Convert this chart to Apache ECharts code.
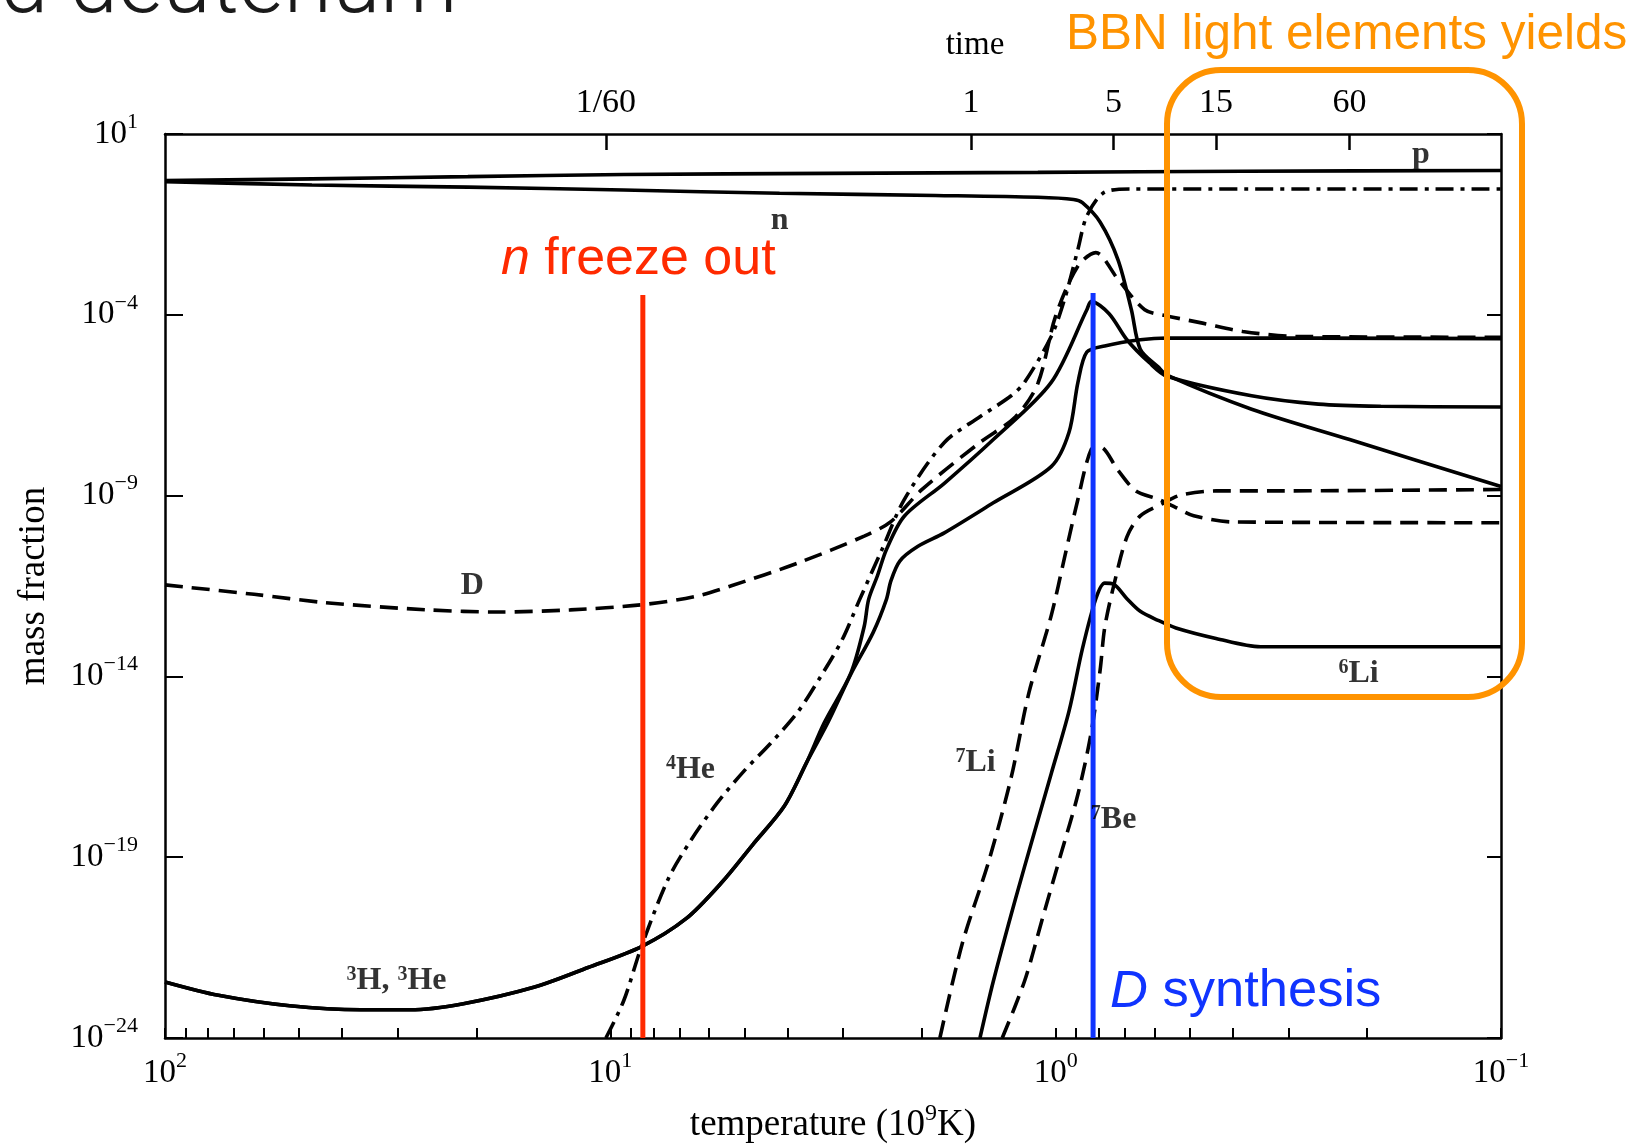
<!DOCTYPE html>
<html><head><meta charset="utf-8">
<script src="https://cdn.jsdelivr.net/npm/echarts@6/dist/echarts.min.js"></script>
<style>html,body{margin:0;padding:0;background:#fff;}#c{width:1627px;height:1144px;}</style>
</head><body><div id="c"></div>
<script>
// All values are log10: x = log10(T / 10^9 K), y = log10(mass fraction)
const tempTicks = [2, 1, 0, -1];
const massTicks = [1, -4, -9, -14, -19, -24];
const timeTickPos = [1.01, 0.19, -0.13, -0.36, -0.66];
const timeTickLabels = ['1/60', '1', '5', '15', '60'];

const proton = [[2.00,-0.29],[1.67,-0.24],[1.32,-0.18],[0.97,-0.12],[0.51,-0.09],[0.04,-0.06],[-0.42,-0.03],[-1.00,-0.01]];
const neutron = [[2.00,-0.32],[1.67,-0.41],[1.32,-0.47],[0.97,-0.55],[0.62,-0.64],[0.27,-0.70],[0.04,-0.75],[-0.04,-0.81],[-0.06,-0.90],[-0.10,-1.44],[-0.14,-2.48],[-0.17,-3.86],[-0.19,-4.95],[-0.23,-5.44],[-0.25,-5.67],[-0.44,-6.61],[-0.66,-7.45],[-1.00,-8.75]];
const deuterium = [[2.00,-11.47],[1.80,-11.73],[1.64,-11.96],[1.41,-12.16],[1.25,-12.22],[1.09,-12.16],[0.93,-12.02],[0.81,-11.79],[0.73,-11.50],[0.58,-10.87],[0.43,-10.12],[0.37,-9.72],[0.30,-8.83],[0.17,-7.53],[0.09,-6.82],[0.04,-5.90],[0.00,-4.03],[-0.05,-2.65],[-0.09,-2.28],[-0.14,-3.02],[-0.20,-3.86],[-0.25,-4.03],[-0.33,-4.23],[-0.42,-4.46],[-0.54,-4.60],[-1.00,-4.62]];
const helium4 = [[1.01,-24.00],[0.97,-22.97],[0.93,-21.47],[0.87,-19.60],[0.82,-18.55],[0.76,-17.50],[0.70,-16.62],[0.64,-15.85],[0.58,-15.00],[0.53,-14.05],[0.48,-13.00],[0.44,-11.87],[0.39,-10.49],[0.34,-9.11],[0.25,-7.53],[0.17,-6.82],[0.10,-6.24],[0.07,-5.87],[0.01,-4.60],[-0.02,-3.57],[-0.05,-2.19],[-0.07,-1.27],[-0.11,-0.61],[-0.17,-0.52],[-1.00,-0.52]];
const tritium = [[2.00,-22.45],[1.88,-22.82],[1.72,-23.11],[1.56,-23.22],[1.45,-23.22],[1.33,-23.05],[1.17,-22.59],[1.05,-22.05],[0.93,-21.47],[0.83,-20.70],[0.75,-19.70],[0.68,-18.65],[0.61,-17.60],[0.56,-16.40],[0.52,-15.29],[0.46,-13.91],[0.43,-12.62],[0.42,-11.87],[0.40,-11.21],[0.38,-10.49],[0.34,-9.57],[0.25,-8.66],[0.14,-7.45],[0.01,-5.87],[-0.07,-3.86],[-0.08,-3.63],[-0.12,-3.97],[-0.16,-4.69],[-0.21,-5.32],[-0.25,-5.70],[-0.44,-6.24],[-0.59,-6.47],[-0.73,-6.53],[-1.00,-6.55]];
const helium3 = [[2.00,-22.45],[1.88,-22.82],[1.72,-23.11],[1.56,-23.22],[1.45,-23.22],[1.33,-23.05],[1.17,-22.59],[1.05,-22.05],[0.93,-21.47],[0.83,-20.70],[0.75,-19.70],[0.68,-18.65],[0.61,-17.60],[0.56,-16.40],[0.51,-15.24],[0.46,-13.94],[0.41,-12.79],[0.38,-11.87],[0.37,-11.36],[0.35,-10.81],[0.31,-10.41],[0.25,-10.03],[0.14,-9.20],[0.01,-8.20],[-0.03,-7.25],[-0.05,-5.87],[-0.07,-5.03],[-0.11,-4.86],[-0.19,-4.69],[-0.25,-4.64],[-1.00,-4.66]];
const lithium7 = [[0.26,-24.00],[0.21,-21.40],[0.15,-19.10],[0.10,-16.80],[0.06,-14.45],[0.01,-12.32],[-0.02,-10.71],[-0.05,-9.10],[-0.08,-7.72],[-0.10,-7.66],[-0.14,-8.30],[-0.18,-8.87],[-0.23,-9.10],[-0.27,-9.33],[-0.31,-9.56],[-0.40,-9.73],[-1.00,-9.75]];
const lithium6 = [[0.17,-24.00],[0.14,-22.43],[0.09,-20.14],[0.05,-18.41],[0.01,-16.69],[-0.03,-14.96],[-0.06,-13.24],[-0.09,-11.86],[-0.11,-11.42],[-0.13,-11.45],[-0.16,-11.85],[-0.19,-12.20],[-0.23,-12.45],[-0.27,-12.66],[-0.36,-12.95],[-0.46,-13.18],[-1.00,-13.18]];
const beryllium7 = [[0.12,-24.00],[0.07,-22.43],[0.03,-20.71],[-0.01,-18.99],[-0.05,-17.26],[-0.08,-15.54],[-0.10,-13.81],[-0.11,-12.66],[-0.13,-11.51],[-0.16,-10.14],[-0.19,-9.56],[-0.24,-9.22],[-0.28,-8.99],[-0.36,-8.87],[-0.48,-8.87],[-1.00,-8.83]];

const freezeOutLine = [[0.927,-3.45],[0.927,-24]];
const dSynthesisLine = [[-0.084,-3.40],[-0.084,-24]];

const curveLabelTexts = ['p', 'n', 'D', '{s|4}He', '{s|3}H, {s|3}He', '{s|7}Li', '{s|7}Be', '{s|6}Li'];
const curveLabelPos = [[-0.82,0.43],[0.62,-1.39],[1.31,-11.5],[0.82,-16.59],[1.48,-22.42],[0.18,-16.39],[-0.13,-17.97],[-0.68,-13.94]];

const SERIF = '"Liberation Serif", "Times New Roman", serif';
const SANS = '"Liberation Sans", Arial, Helvetica, sans-serif';
const DASH = [18, 9];
const DASHDOT = [18, 7, 4, 7];

const bottomTickValues = [];
for (let n = -1; n <= 1; n++) for (let k = 1; k <= 9; k++) bottomTickValues.push(n + Math.log10(k));
bottomTickValues.push(2);

function powLabel(v) {
  const n = Math.round(v);
  return '{b|10}{s|' + (n < 0 ? '\u2212' + (-n) : n) + '}';
}
const powRich = {
  b: {fontFamily: SERIF, fontSize: 33, lineHeight: 46, color: '#000'},
  s: {fontFamily: SERIF, fontSize: 22, lineHeight: 20, verticalAlign: 'top', color: '#000'}
};

const curves = [
  {name: 'p', data: proton, dash: 'solid'},
  {name: 'n', data: neutron, dash: 'solid'},
  {name: 'D', data: deuterium, dash: DASH},
  {name: '4He', data: helium4, dash: DASHDOT},
  {name: '3H', data: tritium, dash: 'solid'},
  {name: '3He', data: helium3, dash: 'solid'},
  {name: '7Li', data: lithium7, dash: DASH},
  {name: '6Li', data: lithium6, dash: 'solid'},
  {name: '7Be', data: beryllium7, dash: DASH}
];

const series = curves.map(c => ({
  type: 'line', name: c.name, data: c.data, showSymbol: false, symbol: 'none',
  smooth: 0.3, silent: true, z: 2,
  lineStyle: {color: '#000', width: 3.6, type: c.dash}
}));
series.push({type: 'line', data: freezeOutLine, symbol: 'none', silent: true, z: 5,
  lineStyle: {color: '#FF2A00', width: 5}});
series.push({type: 'line', data: dSynthesisLine, symbol: 'none', silent: true, z: 5,
  lineStyle: {color: '#1034FF', width: 5}});
series.push({
  type: 'scatter', silent: true, symbolSize: 1, itemStyle: {color: 'rgba(0,0,0,0)'}, z: 6,
  data: curveLabelPos.map((p, i) => ({value: p, name: curveLabelTexts[i]})),
  label: {show: true, position: 'inside', formatter: p => p.name,
    fontFamily: SERIF, fontSize: 32, color: '#000', fontWeight: 'bold',
    rich: {s: {fontFamily: SERIF, fontSize: 20, verticalAlign: 'top', lineHeight: 18, color: '#000', fontWeight: 'bold'}}}
});

const lineStyleAxis = {color: '#000', width: 2.5};
const chart = echarts.init(document.getElementById('c'));
chart.setOption({
  animation: false,
  backgroundColor: '#fff',
  grid: {left: 165, right: 126, top: 134, bottom: 106, containLabel: false, outerBoundsMode: 'none'},
  xAxis: [{
    type: 'value', min: -1, max: 2, inverse: true, position: 'bottom',
    axisLine: {show: true, onZero: false, lineStyle: lineStyleAxis},
    axisTick: {show: true, inside: true, length: 10, customValues: bottomTickValues, lineStyle: {color: '#000', width: 2}},
    axisLabel: {customValues: tempTicks, formatter: powLabel, rich: powRich, margin: 12},
    splitLine: {show: false},
    name: '{t|temperature (10}{s|9}{t|K)}', nameLocation: 'middle', nameGap: 64,
    nameTextStyle: {rich: {
      t: {fontFamily: SERIF, fontSize: 37, lineHeight: 46, color: '#000'},
      s: {fontFamily: SERIF, fontSize: 24, lineHeight: 20, verticalAlign: 'top', color: '#000'}}}
  }, {
    type: 'value', min: -1, max: 2, inverse: true, position: 'top',
    axisLine: {show: true, onZero: false, lineStyle: lineStyleAxis},
    axisTick: {show: true, inside: true, length: 16, customValues: timeTickPos.slice(), lineStyle: {color: '#000', width: 2.5}},
    axisLabel: {show: true, customValues: timeTickPos.slice(), margin: 14, fontFamily: SERIF, fontSize: 34, color: '#000',
      formatter: v => { const i = timeTickPos.findIndex(t => Math.abs(t - v) < 1e-6); return i >= 0 ? timeTickLabels[i] : ''; }},
    splitLine: {show: false}
  }],
  yAxis: [{
    type: 'value', min: -24, max: 1, position: 'left',
    axisLine: {show: true, onZero: false, lineStyle: lineStyleAxis},
    axisTick: {show: true, inside: true, length: 18, customValues: massTicks, lineStyle: {color: '#000', width: 2}},
    axisLabel: {customValues: massTicks, formatter: powLabel, rich: powRich, margin: 27},
    splitLine: {show: false},
    name: 'mass fraction', nameLocation: 'middle', nameGap: 112, nameRotate: 90,
    nameTextStyle: {fontFamily: SERIF, fontSize: 37, color: '#000'}
  }, {
    type: 'value', min: -24, max: 1, position: 'right',
    axisLine: {show: true, onZero: false, lineStyle: lineStyleAxis},
    axisTick: {show: true, inside: true, length: 14, customValues: massTicks, lineStyle: {color: '#000', width: 2}},
    axisLabel: {show: false}, splitLine: {show: false}
  }],
  series: series,
  graphic: [
    {type: 'text', x: 0, y: -10, z: 10, style: {text: 'd deuterium', fontFamily: 'Roboto, sans-serif', fontWeight: 300,
      fontSize: 87, fill: '#1a1a1a', textVerticalAlign: 'middle', textAlign: 'left'}},
    {type: 'text', x: 975, y: 45, z: 10, style: {text: 'time', fontFamily: SERIF, fontSize: 33, fill: '#000',
      textAlign: 'center', textVerticalAlign: 'middle'}},
    {type: 'text', x: 1066, y: 35, z: 10, style: {text: 'BBN light elements yields', fontFamily: SANS, fontSize: 49.5,
      fill: '#FF9300', textAlign: 'left', textVerticalAlign: 'middle'}},
    {type: 'rect', z: 10, shape: {x: 1167, y: 70, width: 355, height: 627, r: 54},
      style: {fill: 'none', stroke: '#FF9300', lineWidth: 6}},
    {type: 'text', x: 501, y: 260, z: 10, style: {text: '{i|n} freeze out', fontFamily: SANS, fontSize: 52, fill: '#FF2A00',
      textAlign: 'left', textVerticalAlign: 'middle',
      rich: {i: {fontFamily: SANS, fontSize: 52, fontStyle: 'italic', fill: '#FF2A00'}}}},
    {type: 'text', x: 1110, y: 992, z: 10, style: {text: '{i|D} synthesis', fontFamily: SANS, fontSize: 52.5, fill: '#1034FF',
      textAlign: 'left', textVerticalAlign: 'middle',
      rich: {i: {fontFamily: SANS, fontSize: 52.5, fontStyle: 'italic', fill: '#1034FF'}}}}
  ]
});
</script></body></html>
